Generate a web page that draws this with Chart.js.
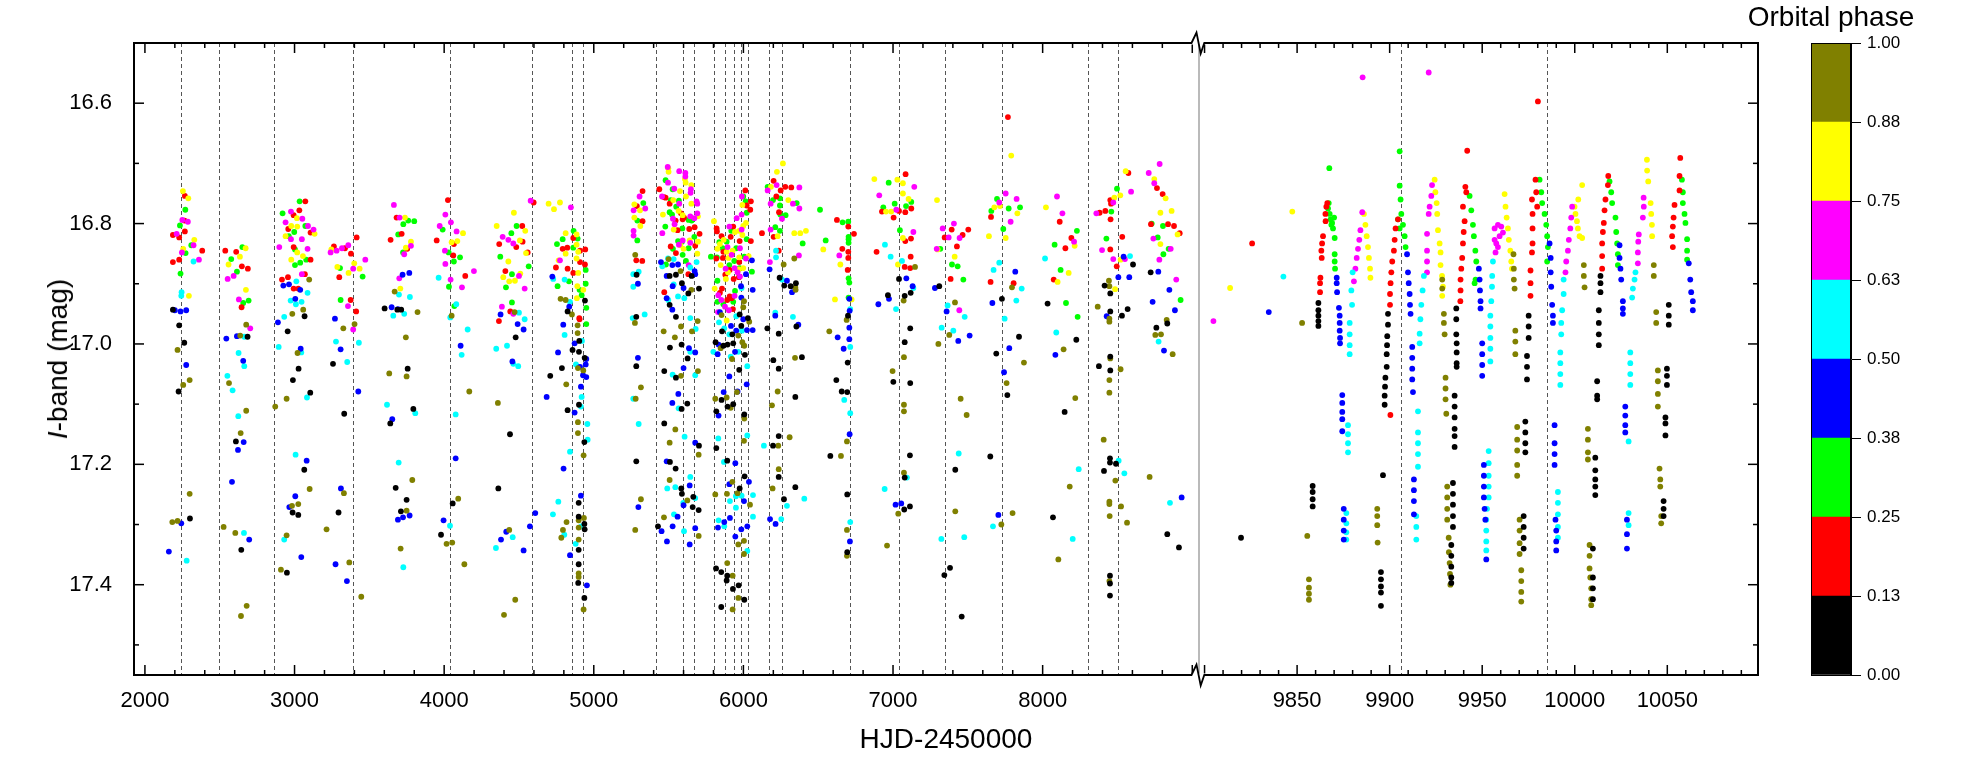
<!DOCTYPE html>
<html>
<head>
<meta charset="utf-8">
<script src="https://cdn.jsdelivr.net/npm/chart.js@4.4.0/dist/chart.umd.min.js"></script>
<style>
body { margin: 0; background: #fff; width: 1961px; height: 771px; overflow: hidden; position: relative; font-family: "Liberation Sans", Arial, sans-serif; }
canvas { position: absolute; top: 0; }
.t { position: absolute; color: #000; white-space: nowrap; line-height: 1; font-size: 28px; }
</style>
</head>
<body>
<canvas id="leftPanel" width="1205" height="771" style="left:0"></canvas>
<canvas id="rightPanel" width="591" height="771" style="left:1180px"></canvas>
<canvas id="phaseBar" width="150" height="771" style="left:1811px"></canvas>
<div class="t" id="xTitle" style="left:946px;top:739px;transform:translate(-50%,-50%)">HJD-2450000</div>
<div class="t" id="yTitle" style="left:58px;top:359px;transform:translate(-50%,-50%) rotate(-90deg)"><i>I</i>-band (mag)</div>
<div class="t" id="barTitle" style="left:1831px;top:17px;transform:translate(-50%,-50%)">Orbital phase</div>
<script>
// colour bar: phase bins and their colours
const phaseTicks = [0, 0.125, 0.25, 0.375, 0.5, 0.625, 0.75, 0.875, 1];
const phaseLabels = ['0.00', '0.13', '0.25', '0.38', '0.50', '0.63', '0.75', '0.88', '1.00'];
const phaseColors = ['#000000', '#ff0000', '#00ff00', '#0000ff', '#00ffff', '#ff00ff', '#ffff00', '#808000'];

// axis ticks
const hjdTicksLeft = [2000, 3000, 4000, 5000, 6000, 7000, 8000];
const hjdTicksRight = [9850, 9900, 9950, 10000, 10050];
const magTicks = [16.6, 16.8, 17.0, 17.2, 17.4];

// dashed vertical markers (HJD-2450000)
const markHjd = [2240, 2493, 2865, 3393, 4041, 4590, 4856, 4931, 5417, 5594, 5672, 5801, 5879, 5935, 5986, 6028, 6169, 6258, 6715, 7043, 7348, 7729, 8306, 8502, 9906, 9985];

// observations [HJD-2450000, I mag], one list per phase bin
const phase00 = [
  [2187,16.943],[2229,16.969],[2263,16.998],[2225,17.079],[2301,17.290],[2686,16.988],[2608,17.162],[2644,17.342],
  [3067,16.954],[2954,16.979],[3027,17.041],[2989,17.060],[3105,17.081],[3065,17.209],[2987,17.280],[3025,17.284],[2949,17.380],
  [3257,17.033],[3332,17.116],[3294,17.280],[3602,16.941],[3687,16.943],[3713,16.943],[3640,17.132],[3676,17.239],[3711,17.278],
  [3756,17.041],[3794,17.108],[3749,17.259],[4057,17.265],[3979,17.317],[4478,16.989],[4440,17.150],[4362,17.240],
  [4941,16.928],[4825,16.946],[4903,16.995],[4858,17.010],[4901,17.013],[4939,17.023],[4787,17.040],[4709,17.053],[4825,17.110],
  [4901,17.101],[4937,17.163],[4899,17.264],[4899,17.287],[4937,17.299],[4939,17.308],[4899,17.342],[4899,17.366],[4896,17.397],[4937,17.422],
  [5286,16.885],[5284,16.955],[5284,17.037],[5284,17.195],
  [5507,16.887],[5549,16.885],[5654,16.887],[5589,16.899],[5703,16.908],[5632,16.916],[5507,16.935],[5549,16.955],[5509,17.006],
  [5587,17.001],[5627,17.024],[5471,17.045],[5549,17.056],[5625,17.099],[5587,17.108],[5471,17.132],[5703,17.169],[5509,17.196],
  [5547,17.207],[5585,17.240],[5589,17.249],[5665,17.254],[5661,17.271],[5701,17.276],[5429,17.303],
  [5975,16.951],[6030,16.957],[5857,16.979],[5926,16.984],[5986,16.970],[5814,16.997],[5866,17.003],[5894,17.001],[5932,16.999],
  [6010,17.018],[5972,17.043],[5819,17.112],[5854,17.093],[5894,17.104],[5932,17.100],[6006,17.117],[5819,17.173],[5892,17.194],
  [6008,17.220],[5975,17.240],[5817,17.373],[5852,17.379],[5892,17.385],[5888,17.393],[5930,17.407],[5968,17.401],[6006,17.425],[5852,17.437],
  [6242,16.890],[6273,16.903],[6316,16.904],[6351,16.899],[6354,16.971],[6236,16.983],[6160,16.974],[6391,17.022],[6200,17.027],
  [6236,17.041],[6347,17.088],[6198,17.169],[6236,17.153],[6236,17.221],[6347,17.238],[6271,17.258],
  [6699,16.953],[6697,17.031],[6621,17.060],[6657,17.079],[6694,17.080],[6581,17.186],[6694,17.250],[6694,17.346],
  [7040,16.892],[6966,16.919],[7078,16.920],[7118,16.915],[7115,16.974],[7078,16.997],[7002,17.063],[7115,17.065],[7113,17.185],
  [7078,17.222],[7075,17.275],[7113,17.270],[7309,16.904],[7416,17.209],[7381,17.372],[7343,17.384],[7459,17.453],
  [7728,16.925],[7842,16.988],[7690,17.016],[7764,17.085],[7650,17.187],[8033,16.933],[8225,16.993],[8147,17.113],[8069,17.288],
  [8604,16.868],[8414,16.903],[8452,16.916],[8452,16.946],[8530,16.953],[8568,16.942],[8452,17.021],[8376,17.037],[8452,17.044],
  [8450,17.190],[8450,17.197],[8490,17.199],[8410,17.211],[8450,17.385],[8450,17.398],[8450,17.418],
  [8722,16.881],[8833,16.966],[8760,16.973],[8833,17.316],[8911,17.338],
  [9819.7,17.322],[9858.4,17.236],[9858.4,17.246],[9858.4,17.258],[9858.4,17.270],
  [9861.5,16.932],[9861.5,16.944],[9861.5,16.953],[9861.5,16.962],[9861.5,16.970],
  [9896.4,17.218],[9895.3,17.379],[9895.3,17.391],[9895.3,17.403],[9895.3,17.413],[9895.3,17.435],
  [9899.1,16.950],[9899.1,16.968],[9898.7,16.987],[9898.6,17.002],[9898.4,17.017],[9898.4,17.038],[9897.7,17.056],[9897.5,17.071],[9897.3,17.086],[9897.3,17.101],
  [9936.0,16.941],[9936.0,16.959],[9936.0,16.984],[9936.2,16.999],[9936.2,17.014],[9936.2,17.032],[9936.2,17.038],
  [9935.1,17.086],[9935.1,17.104],[9935.1,17.122],[9935.1,17.141],[9935.1,17.153],[9935.1,17.171],
  [9934.2,17.231],[9934.2,17.249],[9934.2,17.267],[9934.2,17.286],[9934.2,17.304],
  [9933.3,17.334],[9933.3,17.352],[9933.3,17.370],[9933.3,17.388],[9933.3,17.397],
  [9972.4,17.286],[9972.4,17.304],[9972.4,17.322],[9972.4,17.340],[9973.3,17.129],[9973.3,17.147],[9973.3,17.165],[9973.3,17.180],
  [9974.2,17.020],[9974.2,17.038],[9974.2,17.059],[9975.1,16.953],[9975.1,16.971],[9975.1,16.990],
  [10009.8,17.340],[10009.8,17.388],[10009.8,17.406],[10009.8,17.424],
  [10011.1,17.189],[10011.1,17.210],[10011.1,17.225],[10011.1,17.237],[10011.1,17.251],
  [10012.1,17.062],[10012.1,17.086],[10012.1,17.092],[10013.0,16.944],[10013.0,16.965],[10013.0,16.984],[10013.0,17.002],
  [10013.9,16.887],[10013.9,16.899],[10013.9,16.914],
  [10048.0,17.261],[10048.0,17.274],[10048.0,17.286],[10049.0,17.122],[10049.0,17.132],[10049.0,17.152],
  [10049.8,17.041],[10049.8,17.053],[10049.8,17.068],[10050.8,16.935],[10050.8,16.953],[10050.8,16.968]
];

const phase13 = [
  [2267,16.754],[2265,16.795],[2187,16.819],[2229,16.823],[2267,16.813],[2383,16.845],[2187,16.864],[2229,16.860],
  [2537,16.845],[2610,16.847],[2648,16.871],[2688,16.875],[2646,16.939],
  [3032,16.778],[3072,16.763],[2994,16.786],[2958,16.809],[3107,16.815],[2994,16.839],[3107,16.860],[2916,16.893],[2956,16.889],
  [2994,16.908],[3025,16.908],[3069,16.884],
  [3263,16.838],[3337,16.841],[3377,16.850],[3415,16.823],[3299,16.889],[3375,16.927],[3412,16.946],
  [3682,16.790],[3642,16.827],[3716,16.817],[3753,16.842],
  [4025,16.761],[4065,16.834],[3950,16.828],[4061,16.853],[4141,16.887],
  [4598,16.765],[4522,16.804],[4368,16.834],[4482,16.839],[4524,16.830],[4558,16.848],[4409,16.879],[4442,16.946],[4366,16.962],
  [4792,16.842],[4823,16.840],[4863,16.824],[4908,16.845],[4943,16.843],[4747,16.873],[4825,16.875],[4863,16.882],[4908,16.864],
  [4941,16.868],[4903,16.957],[4905,16.959],
  [5326,16.746],[5288,16.771],[5326,16.796],[5284,16.861],[5324,16.862],
  [5438,16.743],[5480,16.757],[5469,16.756],[5507,16.767],[5583,16.783],[5594,16.793],[5547,16.795],[5603,16.790],[5638,16.809],
  [5560,16.811],[5674,16.806],[5707,16.817],[5514,16.838],[5678,16.837],[5549,16.849],[5632,16.884],[5471,16.914],
  [5821,16.808],[5823,16.813],[5854,16.821],[5932,16.805],[6013,16.745],[6022,16.770],[6050,16.763],[6046,16.777],[6050,16.829],
  [5915,16.822],[5866,16.847],[5975,16.829],[5863,16.857],[5819,16.858],[5972,16.864],[5908,16.877],[5879,16.885],[5935,16.892],
  [5970,16.889],[5857,16.908],[5843,16.915],[5908,16.921],[5892,16.927],[5921,16.924],[5930,16.942],
  [6202,16.729],[6280,16.739],[6320,16.740],[6249,16.745],[6220,16.755],[6238,16.781],[6124,16.816],[6202,16.822],[6236,16.845],
  [6625,16.794],[6701,16.805],[6739,16.817],[6661,16.842],[6701,16.847],[6701,16.857],[6697,16.877],
  [7084,16.718],[7122,16.775],[6926,16.780],[7040,16.779],[7082,16.781],[7004,16.790],[7082,16.829],[7120,16.825],[6890,16.847],
  [7118,16.855],[7078,16.872],[7115,16.874],
  [7392,16.810],[7465,16.819],[7503,16.810],[7345,16.823],[7427,16.838],[7385,16.892],
  [7768,16.623],[7655,16.789],[7652,16.897],[7806,16.899],
  [8114,16.797],[8192,16.824],[8152,16.841],[8074,16.893],
  [8381,16.782],[8419,16.779],[8452,16.761],[8457,16.767],[8573,16.716],[8454,16.793],[8532,16.822],[8452,16.843],[8495,16.871],
  [8764,16.741],[8802,16.751],[8724,16.801],[8838,16.801],[8878,16.804],[8916,16.816],
  [9825.7,16.833],[9866.3,16.766],[9865.8,16.772],[9865.3,16.784],[9865.4,16.796],[9864.0,16.821],[9863.5,16.833],[9863.1,16.845],
  [9863.3,16.857],[9862.6,16.890],[9862.4,16.899],[9862.4,16.914],
  [9900.4,17.118],[9904.5,16.793],[9903.2,16.808],[9902.7,16.827],[9902.3,16.845],[9901.4,16.863],[9900.9,16.881],[9900.5,16.899],
  [9900.2,16.917],[9900.2,16.935],
  [9941.9,16.679],[9940.9,16.739],[9941.4,16.748],[9939.6,16.772],[9940.5,16.796],[9940.0,16.814],[9939.6,16.833],[9939.2,16.857],
  [9938.7,16.875],[9938.3,16.893],[9938.3,16.911],[9938.2,16.929],
  [9976.1,16.878],[9976.1,16.899],[9976.1,16.920],[9976.9,16.760],[9977.2,16.784],[9977.2,16.808],[9977.2,16.833],[9976.9,16.848],
  [9980.1,16.597],[9978.8,16.727],[9979.2,16.748],[9979.7,16.772],
  [10014.8,16.875],[10014.8,16.854],[10014.8,16.833],[10015.2,16.814],[10015.7,16.799],[10016.1,16.778],[10016.6,16.760],
  [10017.9,16.736],[10018.1,16.721],
  [10053.9,16.769],[10053.4,16.790],[10053.0,16.805],[10052.6,16.821],[10053.0,16.839],[10057.0,16.691],[10056.6,16.721],[10056.6,16.745]
];

const phase25 = [
  [2270,16.777],[2234,16.803],[2310,16.836],[2272,16.849],[2238,16.883],
  [2651,16.839],[2577,16.859],[2615,16.880],[2693,16.928],[2657,16.932],
  [2920,16.783],[3034,16.763],[3072,16.804],[2998,16.814],[2962,16.821],[3003,16.843],[3078,16.860],[3038,16.865],[3003,16.869],
  [3304,16.874],[3455,16.888],[3308,16.927],[3693,16.818],[3725,16.848],
  [3760,16.795],[3800,16.796],[3727,16.801],
  [3990,16.810],[4030,16.848],[4065,16.863],[4106,16.856],[4032,16.905],[4068,16.937],
  [4484,16.804],[4449,16.816],[4375,16.855],[4565,16.871],[4453,16.884],[4413,16.906],[4453,16.931],
  [4754,16.834],[4792,16.826],[4865,16.812],[4892,16.825],[4863,16.840],[4758,16.904],[4834,16.896],[4946,16.877],[4946,16.900],
  [4905,16.910],[4919,16.919],[4950,16.940],[4950,16.967],
  [5331,16.766],[5291,16.795],[5291,16.828],
  [5480,16.728],[5527,16.743],[5514,16.761],[5569,16.762],[5551,16.772],[5507,16.781],[5523,16.785],[5634,16.794],[5654,16.795],
  [5478,16.805],[5592,16.808],[5672,16.822],[5589,16.830],[5563,16.829],[5634,16.841],[5529,16.842],[5594,16.852],[5482,16.868],[5616,16.862],
  [5839,16.831],[5919,16.812],[5999,16.755],[6015,16.763],[6022,16.782],[6022,16.826],[5888,16.830],[5861,16.841],[5952,16.841],
  [5823,16.856],[5783,16.855],[6006,16.855],[5939,16.862],[5906,16.869],[5975,16.874],[6057,16.880],[5826,16.895],[5944,16.912],
  [5826,16.930],[5866,16.934],[5932,16.930],
  [6162,16.739],[6198,16.761],[6244,16.758],[6244,16.770],[6356,16.766],[6247,16.785],[6282,16.786],[6213,16.806],[6244,16.812],[6396,16.833],
  [6512,16.777],[6663,16.798],[6701,16.797],[6703,16.822],[6703,16.826],[6703,16.832],[6703,16.891],[6708,16.898],[6703,16.923],[6550,16.828],
  [6971,16.732],[7122,16.764],[7011,16.767],[6935,16.773],[7087,16.771],[7046,16.811],
  [7316,16.842],[7394,16.868],[7432,16.871],[7470,16.893],
  [7695,16.759],[7657,16.779],[7773,16.775],[7849,16.773],[7737,16.809],
  [8229,16.812],[8080,16.835],[8120,16.877],[8156,16.932],[8234,16.955],
  [8497,16.742],[8459,16.780],[8426,16.825],
  [8729,16.800],[8804,16.804],[8769,16.823],[8842,16.842],[8807,16.851],[8922,16.927],
  [9867.4,16.708],[9867.1,16.766],[9866.7,16.775],[9867.6,16.784],[9868.1,16.793],[9868.9,16.799],[9870.0,16.790],[9869.4,16.808],
  [9870.3,16.824],[9868.5,16.802],[9870.3,16.851],[9870.3,16.863],[9870.5,16.875],
  [9905.4,16.680],[9905.4,16.737],[9905.9,16.760],[9906.3,16.784],[9907.2,16.802],[9908.1,16.821],[9908.6,16.839],[9904.5,16.793],[9905.4,16.808],
  [9943.2,16.754],[9944.1,16.778],[9945.0,16.802],[9945.5,16.821],[9946.3,16.845],[9946.8,16.863],[9946.4,16.893],[9945.9,16.899],
  [9981.0,16.727],[9981.9,16.748],[9982.4,16.766],[9983.7,16.784],[9984.6,16.802],[9985.1,16.821],[9985.5,16.839],[9985.1,16.863],
  [10018.8,16.730],[10019.7,16.748],[10020.2,16.766],[10022.0,16.790],[10022.4,16.814],[10022.9,16.833],[10023.3,16.851],[10023.3,16.869],
  [10057.9,16.727],[10058.4,16.748],[10058.4,16.766],[10059.3,16.784],[10059.8,16.799],[10060.7,16.826],[10060.7,16.845],[10060.7,16.860]
];

const phase38 = [
  [2200,16.944],[2238,16.946],[2276,16.944],[2276,17.035],[2243,17.298],[2160,17.345],
  [2544,16.991],[2615,16.987],[2657,17.028],[2660,17.163],[2622,17.176],[2582,17.229],[2697,17.325],
  [2925,16.903],[2963,16.901],[3038,16.910],[3005,16.925],[2889,16.964],[3041,17.008],[3081,17.194],[3005,17.253],[2965,17.271],[3045,17.354],
  [3270,16.958],[3308,17.009],[3426,17.079],[3310,17.240],[3274,17.366],[3350,17.394],
  [3649,16.939],[3691,16.942],[3722,16.885],[3653,17.125],[3691,17.292],[3725,17.288],[3767,16.882],[3769,17.285],
  [4110,17.003],[4077,17.190],[3996,17.293],
  [4377,16.951],[4491,16.967],[4531,16.976],[4456,17.029],[4609,17.281],[4573,17.303],[4415,17.312],[4380,17.325],[4531,17.343],
  [4723,16.888],[4836,16.938],[4796,16.968],[4872,16.999],[4761,17.014],[4950,17.025],[4946,17.034],[4908,17.038],[4928,17.052],
  [4950,17.055],[4914,17.071],[4685,17.088],[4872,17.114],[4798,17.207],[4914,17.252],[4841,17.351],[4954,17.401],
  [5295,16.900],[5295,17.023],[5298,17.271],
  [5449,16.864],[5525,16.869],[5563,16.868],[5674,16.879],[5487,16.887],[5678,16.884],[5527,16.904],[5600,16.907],[5487,16.924],
  [5525,16.943],[5636,17.007],[5678,17.014],[5600,17.040],[5565,17.083],[5525,17.098],[5678,17.164],[5487,17.195],[5641,17.235],
  [5600,17.268],[5560,17.287],[5527,17.303],[5453,17.311],[5678,17.306],[5489,17.328],[5641,17.333],
  [6057,16.861],[6017,16.884],[5984,16.904],[6062,16.910],[5986,16.923],[5843,16.947],[5999,16.959],[5917,16.970],[5952,16.978],
  [6024,16.977],[6062,16.977],[5834,17.001],[5828,17.017],[5944,17.013],[5906,17.054],[6022,17.067],[5834,17.119],[5868,17.080],
  [5961,17.079],[5946,17.198],[5906,17.233],[6004,17.261],[6037,17.229],[5830,17.305],[5872,17.296],[5910,17.289],[5986,17.308],
  [6026,17.303],[5946,17.320],
  [6175,16.876],[6291,16.895],[6325,16.914],[6213,16.953],[6367,16.968],[6178,17.291],[6215,17.299],
  [6708,16.925],[6710,16.945],[6708,16.973],[6630,16.989],[6708,16.992],[6670,17.008],[6710,17.150],[6712,17.328],
  [7089,16.891],[7131,16.904],[6973,16.925],[6902,16.934],[7017,17.267],[7055,17.265],
  [7280,16.907],[7358,16.946],[7436,16.995],[7512,16.986],
  [7817,16.880],[7664,16.932],[7777,17.007],[7742,17.047],[7704,17.284],[8085,17.018],
  [8541,16.855],[8506,16.889],[8579,16.889],[8428,16.954],
  [8773,16.880],[8847,16.910],[8735,16.930],[8884,16.944],[8811,17.011],[8929,17.255],
  [9834.7,16.947],
  [9871.4,16.890],[9871.4,16.899],[9871.6,16.914],[9872.6,16.940],[9873.0,16.953],[9873.0,16.965],[9873.0,16.978],[9873.2,16.990],[9873.2,16.999],
  [9874.4,17.085],[9874.4,17.098],[9874.4,17.113],[9874.4,17.125],[9874.4,17.145],
  [9875.2,17.274],[9875.2,17.292],[9875.2,17.310],[9875.2,17.325],
  [9909.4,16.851],[9909.9,16.881],[9910.3,16.899],[9910.8,16.917],[9911.0,16.935],[9911.3,16.950],
  [9912.2,17.005],[9912.2,17.023],[9912.2,17.041],[9912.2,17.059],[9912.6,17.080],
  [9913.1,17.225],[9913.1,17.243],[9913.1,17.261],[9913.1,17.283],
  [9948.2,16.875],[9948.6,16.893],[9948.8,16.911],[9949.1,16.929],[9949.1,16.941],
  [9950.0,16.999],[9950.0,17.017],[9950.0,17.035],[9950.0,17.053],
  [9950.9,17.201],[9950.9,17.219],[9950.9,17.237],[9950.9,17.255],[9951.3,17.274],[9951.7,17.292],[9952.2,17.358],
  [9986.4,16.833],[9987.0,16.857],[9987.0,16.881],[9987.3,16.905],[9987.8,16.935],[9988.2,16.953],[9988.2,16.965],
  [9989.1,17.135],[9989.1,17.165],[9989.1,17.183],[9989.1,17.201],
  [9989.6,17.292],[9990.0,17.310],[9990.0,17.328],[9990.0,17.343],
  [10024.2,16.836],[10024.2,16.857],[10024.7,16.875],[10025.1,16.893],[10026.0,16.929],[10026.0,16.941],[10026.0,16.950],
  [10027.3,17.104],[10027.3,17.119],[10027.3,17.135],[10027.3,17.147],[10028.2,17.292],[10028.2,17.316],[10028.2,17.340],
  [10061.6,16.866],[10062.4,16.893],[10062.9,16.914],[10063.8,16.929],[10063.8,16.944]
];

const phase50 = [
  [2325,16.863],[2245,16.914],[2243,16.920],[2279,17.360],
  [2664,16.988],[2626,17.015],[2664,17.037],[2551,17.053],[2586,17.077],[2624,17.120],[2662,17.314],
  [3012,16.896],[3087,16.915],[2974,16.928],[3009,16.934],[3047,16.930],[2931,16.955],[2894,17.005],[3045,17.014],[3083,17.089],
  [3007,17.184],[2931,17.325],
  [3277,16.996],[3430,16.998],[3352,17.030],
  [3698,16.918],[3660,16.953],[3618,17.101],[3696,17.197],[3727,17.371],[3771,16.922],[3733,16.950],[3807,17.115],
  [3963,16.890],[4081,16.934],[4041,16.956],[4157,16.976],[4117,17.018],[4077,17.117],[4039,17.302],
  [4500,16.948],[4538,16.959],[4348,17.008],[4420,17.003],[4462,17.033],[4495,17.037],[4458,17.321],[4346,17.339],
  [4729,16.892],[4805,16.893],[4841,16.930],[4805,16.985],[4921,16.995],[4881,17.034],[4919,17.088],[4914,17.104],[4957,17.133],
  [4959,17.159],[4841,17.179],[4763,17.262],[4727,17.283],[4916,17.303],[4803,17.317],[4879,17.332],
  [5264,16.884],[5300,16.880],[5264,16.905],[5260,16.957],[5340,16.951],[5264,17.091],[5300,17.133],
  [5458,16.871],[5496,16.858],[5534,16.859],[5645,16.873],[5687,16.864],[5534,16.901],[5563,16.921],[5605,16.924],[5498,16.927],
  [5645,16.957],[5681,16.975],[5645,17.013],[5527,17.051],[5678,17.052],[5567,17.107],[5607,17.154],[5645,17.221],[5491,17.240],
  [5545,17.238],[5678,17.256],[5598,17.264],[5536,17.283],[5603,17.311],
  [5988,16.907],[5952,16.954],[5837,16.964],[5872,16.974],[5906,16.984],[5990,16.978],[5799,17.013],[5915,17.021],[5966,17.013],
  [6026,17.037],[6026,17.152],[5832,17.157],[5870,17.196],[5910,17.261],[5950,17.253],[5988,17.252],[6064,17.251],[5834,17.293],
  [5872,17.303],[5950,17.272],[6064,17.287],[6026,17.344],
  [6218,16.845],[6218,16.856],[6258,16.893],[6213,16.948],[6331,16.955],[6137,17.169],[6291,17.269],[6253,17.291],[6407,17.257],
  [6714,16.942],[6714,17.005],[6674,17.093],[6714,17.115],[6714,17.296],
  [6946,16.835],[6984,16.855],[7060,16.862],[7136,16.907],[7020,16.942],[7093,17.222],[6944,17.241],
  [7365,16.936],[7479,16.955],[7325,16.973],[7403,16.978],[7439,17.182],[7323,17.324],[7476,17.321],
  [7710,16.865],[7672,16.877],[7860,16.908],[7824,16.928],[7746,16.958],[7668,17.303],
  [8016,16.858],[8091,16.981],[8241,17.208],[8201,17.324],
  [8584,16.854],[8508,17.194],[8546,17.215],[8775,16.996],[8851,17.264],
  [9842.6,16.888],
  [9876.6,17.281],[9876.6,17.298],[9876.6,17.313],[9876.6,17.325],[9877.5,17.135],[9877.5,17.150],[9877.5,17.165],[9877.5,17.180],
  [9878.4,16.965],[9878.4,16.984],[9878.4,17.002],[9878.4,17.017],[9879.3,16.911],[9879.7,16.935],[9880.0,16.881],
  [9918.5,16.887],[9917.8,16.911],[9917.1,16.935],[9916.6,16.959],[9916.2,16.983],[9916.2,16.999],
  [9915.3,17.112],[9915.3,17.147],[9915.3,17.165],[9915.3,17.183],[9915.3,17.204],[9914.4,17.286],[9914.4,17.304],[9914.4,17.325],
  [9954.4,16.953],[9954.4,16.971],[9954.4,16.990],[9954.4,17.008],[9954.4,17.029],
  [9955.8,16.863],[9955.4,16.887],[9955.3,16.905],[9954.9,16.929],
  [9953.5,17.178],[9953.5,17.198],[9953.5,17.219],[9953.5,17.237],[9953.5,17.255],[9952.6,17.274],[9952.2,17.292],[9952.2,17.310],
  [9952.2,17.328],[9952.2,17.343],
  [9990.9,17.246],[9990.9,17.264],[9990.9,17.283],[9990.9,17.304],[9990.9,17.322],
  [9992.2,17.014],[9992.2,17.032],[9992.2,17.050],[9992.2,17.068],[9992.7,16.965],[9992.7,16.984],[9993.2,16.944],
  [9994.0,16.893],[9994.0,16.917],
  [10029.1,17.162],[10029.1,17.281],[10029.1,17.301],[10030.0,17.014],[10030.0,17.032],[10030.0,17.050],[10030.0,17.068],
  [10031.0,16.923],[10031.4,16.908],[10032.3,16.893],[10032.8,16.881]
];

const phase63 = [
  [2250,16.794],[2287,16.797],[2212,16.817],[2325,16.836],[2247,16.848],[2361,16.860],
  [2593,16.887],[2553,16.892],[2628,16.926],[2704,16.974],
  [2898,16.839],[2976,16.780],[2940,16.798],[3052,16.792],[3090,16.804],[3127,16.810],[2976,16.826],[3049,16.826],[3087,16.842],[3049,16.884],
  [3241,16.848],[3281,16.845],[3317,16.841],[3359,16.836],[3392,16.875],[3473,16.860],[3357,16.937],[3392,16.976],
  [3664,16.769],[3702,16.790],[3700,16.891],[3778,16.837],[3733,16.851],
  [4008,16.785],[3970,16.804],[4045,16.798],[4083,16.813],[4005,16.845],[4008,16.867],[4199,16.879],[4043,16.893],[4119,16.906],
  [4578,16.762],[4391,16.822],[4429,16.827],[4462,16.833],[4500,16.887],[4538,16.908],[4386,16.938],[4462,16.950],
  [4847,16.773],[4774,16.861],
  [5306,16.755],[5344,16.775],[5266,16.778],[5266,16.812],[5266,16.820],
  [5494,16.706],[5571,16.713],[5612,16.716],[5612,16.722],[5496,16.732],[5538,16.742],[5649,16.743],[5647,16.749],[5456,16.755],
  [5687,16.763],[5692,16.767],[5571,16.767],[5692,16.783],[5529,16.792],[5645,16.788],[5672,16.791],[5540,16.801],[5458,16.816],
  [5594,16.828],[5645,16.832],[5569,16.835],[5634,16.869],
  [5955,16.791],[5906,16.805],[5988,16.810],[5990,16.755],[5988,16.785],[5894,16.839],[5977,16.841],[5921,16.852],[6017,16.858],
  [5881,16.875],[5941,16.874],[5961,16.881],[5977,16.888],[5941,16.920],[5832,16.919],[5852,16.927],[5877,16.938],[5903,16.944],[5830,16.947],
  [6222,16.736],[6374,16.740],[6162,16.745],[6182,16.767],[6331,16.767],[6374,16.775],[6258,16.792],[6182,16.810],[6371,16.853],[6177,16.864],
  [6641,16.853],
  [7142,16.739],[6908,16.753],[7022,16.777],[7136,16.814],
  [7332,16.808],[7407,16.800],[7445,16.824],[7372,16.823],[7292,16.842],[7443,16.944],
  [7753,16.750],[7710,16.765],[7826,16.759],[7786,16.797],
  [8096,16.755],[8132,16.783],[8210,16.830],
  [8359,16.783],[8472,16.765],[8591,16.747],[8397,16.844],[8472,16.859],[8550,16.859],
  [8709,16.716],[8782,16.701],[8746,16.733],[8740,16.825],[8856,16.842],[8780,16.860],[8893,16.893],
  [9804.8,16.962],[9885.4,16.557],
  [9880.7,16.896],[9881.5,16.875],[9882.2,16.857],[9882.9,16.842],[9883.6,16.827],[9884.2,16.811],[9885.2,16.781],
  [9921.1,16.549],[9920.2,16.881],[9920.2,16.863],[9920.2,16.845],[9920.2,16.817],
  [9921.1,16.784],[9921.6,16.772],[9922.5,16.754],[9922.9,16.736],
  [9956.7,16.808],[9958.5,16.802],[9960.3,16.805],[9957.6,16.833],[9957.2,16.848],[9956.7,16.827],[9959.4,16.821],[9961.2,16.815],[9958.5,16.839],
  [9995.0,16.881],[9995.4,16.863],[9996.3,16.845],[9996.8,16.827],[9997.6,16.808],[9998.1,16.790],[9998.6,16.772],
  [10034.1,16.866],[10034.1,16.848],[10034.3,16.830],[10034.6,16.818],[10036.8,16.790],[10037.3,16.772],[10037.2,16.757]
];

const phase75 = [
  [2254,16.746],[2290,16.758],[2330,16.827],[2256,16.842],[2294,16.920],
  [2673,16.841],[2635,16.855],[2559,16.868],[2675,16.910],
  [3016,16.791],[2978,16.804],[3018,16.805],[3134,16.817],[2940,16.821],[3018,16.848],[3056,16.854],[2978,16.860],
  [3246,16.843],[3399,16.866],[3435,16.875],[3361,16.882],[3286,16.872],[3707,16.908],
  [3738,16.790],[3778,16.830],[3744,16.840],
  [4126,16.816],[4088,16.829],[4050,16.831],
  [4466,16.782],[4351,16.804],[4542,16.812],[4506,16.828],[4547,16.849],[4429,16.863],[4395,16.889],[4435,16.896],[4473,16.895],[4509,16.883],
  [4698,16.767],[4734,16.776],[4774,16.765],[4812,16.816],[4765,16.861],[4812,16.850],[4885,16.818],[4885,16.835],[4896,16.847],
  [4885,16.858],[4896,16.882],[4890,16.904],[4930,16.910],[4887,16.924],
  [5271,16.768],[5309,16.778],[5271,16.790],[5311,16.804],
  [5498,16.708],[5500,16.714],[5609,16.726],[5614,16.732],[5652,16.736],[5576,16.746],[5531,16.761],[5616,16.755],[5652,16.767],
  [5567,16.779],[5462,16.785],[5594,16.786],[5696,16.788],[5534,16.810],[5696,16.830],[5641,16.828],[5578,16.836],[5600,16.842],[5692,16.850],
  [5803,16.796],[5868,16.827],[5843,16.834],[5944,16.814],[5972,16.812],[5993,16.769],[5999,16.804],[6017,16.799],[5993,16.819],
  [5826,16.842],[5888,16.847],[5928,16.845],[5901,16.857],[5972,16.856],[6035,16.854],[5848,16.869],[5970,16.876],[5999,16.874],
  [5897,16.881],[5883,16.892],[5808,16.908],[5888,16.961],
  [6264,16.700],[6224,16.714],[6184,16.739],[6300,16.761],[6229,16.821],[6340,16.816],[6380,16.816],[6418,16.812],
  [6534,16.843],[6648,16.868],[6612,16.926],[6723,16.926],
  [6875,16.726],[7029,16.727],[7066,16.733],[7066,16.750],[7104,16.759],[6953,16.780],[6988,16.780],[7066,16.824],[7033,16.868],
  [7294,16.761],[7298,16.843],[7412,16.855],
  [7790,16.687],[7715,16.771],[7677,16.773],[7831,16.783],[7641,16.821],[7753,16.824],
  [8022,16.773],[8214,16.837],[8174,16.882],[8100,16.897],
  [8555,16.713],[8479,16.757],[8519,16.753],[8521,16.860],[8484,16.909],
  [8746,16.726],[8822,16.758],[8787,16.782],[8862,16.779],[8902,16.818],[8787,16.834],
  [9813.8,16.907],[9847.4,16.780],
  [9886.1,16.784],[9886.9,16.802],[9887.6,16.821],[9888.3,16.839],[9888.8,16.857],[9889.4,16.875],[9889.6,16.890],
  [9924.3,16.727],[9924.7,16.748],[9925.4,16.766],[9925.7,16.784],[9926.1,16.811],[9927.0,16.833],[9927.5,16.848],[9927.5,16.869],
  [9928.3,16.887],[9928.8,16.905],[9928.4,16.920],
  [9962.1,16.751],[9962.6,16.772],[9963.2,16.790],[9963.9,16.808],[9964.4,16.827],[9965.2,16.845],[9965.7,16.863],[9966.1,16.875],
  [9999.9,16.772],[10000.4,16.784],[10001.2,16.796],[10001.7,16.808],[10002.6,16.821],[10004.0,16.824],[10001.9,16.760],[10004.0,16.736],
  [10039.0,16.694],[10039.1,16.712],[10039.7,16.730],[10041.0,16.766],[10041.3,16.784],[10041.7,16.802],[10041.8,16.821]
];

const phase88 = [
  [2299,17.249],[2183,17.296],[2218,17.294],[2218,17.010],[2299,17.060],[2256,17.068],
  [2677,16.968],[2637,16.986],[2562,17.065],[2677,17.111],[2640,17.148],[2526,17.304],[2604,17.314],[2680,17.435],[2642,17.452],
  [3098,16.893],[2985,16.950],[3058,16.943],[3020,17.015],[2947,17.091],[2871,17.104],[3101,17.241],[2983,17.269],[3025,17.266],
  [2947,17.318],[2909,17.375],
  [3401,16.967],[3326,16.974],[3330,17.248],[3214,17.308],[3366,17.363],[3446,17.420],
  [3669,16.913],[3633,17.049],[3709,17.340],[3822,16.947],[3744,16.989],[3749,17.054],[3787,17.226],[3749,17.277],
  [4050,16.953],[4168,17.079],[4094,17.257],[4016,17.332],[4054,17.330],[4135,17.366],
  [4471,16.947],[4359,17.098],[4435,17.309],[4475,17.425],[4400,17.450],
  [4778,16.925],[4812,16.927],[4854,16.951],[4892,16.969],[4892,16.982],[4894,17.040],[4930,17.044],[4816,17.067],[4894,17.130],
  [4894,17.148],[4932,17.185],[4818,17.296],[4899,17.293],[4934,17.289],[4899,17.305],[4794,17.309],[4783,17.322],[4899,17.325],
  [4899,17.381],[4899,17.387],[4932,17.441],
  [5277,16.852],[5275,16.965],[5315,17.072],[5280,17.091],[5315,17.258],[5277,17.309],
  [5500,16.859],[5580,16.879],[5652,16.910],[5694,16.962],[5467,16.979],[5542,16.989],[5583,16.971],[5656,16.979],[5583,17.053],
  [5696,17.045],[5545,17.142],[5507,17.164],[5701,17.184],[5507,17.226],[5625,17.260],[5469,17.288],[5701,17.319],
  [6004,16.929],[5999,16.939],[5854,16.952],[6039,16.963],[5966,16.986],[5993,16.997],[5848,17.007],[5924,17.025],[6006,17.003],
  [5812,17.091],[5888,17.089],[5957,17.080],[5915,17.106],[6006,17.124],[6004,17.161],[5926,17.229],[5812,17.250],[5890,17.249],
  [5961,17.248],[6044,17.267],[5966,17.333],[6004,17.327],[6004,17.349],[5892,17.364],[5928,17.385],[5966,17.422],[5928,17.441],
  [6269,16.868],[6340,16.858],[6347,16.906],[6349,16.910],[6345,17.023],[6229,17.079],[6191,17.102],[6233,17.169],[6309,17.155],
  [6236,17.208],[6195,17.240],
  [6690,16.960],[6574,16.979],[6692,17.162],[6652,17.186],[6692,17.309],[6692,17.352],
  [7147,16.872],[7071,16.928],[7073,17.022],[6997,17.045],[7073,17.101],[7073,17.112],[7073,17.214],[7035,17.282],[6960,17.335],
  [7414,16.931],[7376,16.985],[7303,17.000],[7452,17.091],[7492,17.118],[7416,17.278],
  [7795,16.906],[7875,17.031],[7759,17.065],[7724,17.300],[7799,17.281],
  [8140,17.009],[8218,17.090],[8181,17.237],[8105,17.358],
  [8443,16.895],[8446,16.904],[8368,16.938],[8446,16.958],[8446,16.963],[8452,17.024],[8521,17.042],[8446,17.060],[8446,17.081],
  [8408,17.159],[8486,17.227],[8446,17.262],[8446,17.266],[8524,17.270],[8448,17.286],[8564,17.297],[8446,17.394],
  [8829,16.960],[8753,16.985],[8791,16.984],[8869,17.017],[8715,17.221],
  [9852.7,16.965],[9855.5,17.319],[9856.4,17.391],[9856.4,17.405],[9856.4,17.415],[9856.4,17.425],
  [9893.3,17.274],[9893.3,17.286],[9893.3,17.301],[9893.5,17.330],
  [9928.4,16.893],[9928.4,16.908],[9929.3,16.950],[9929.3,16.965],[9929.7,16.984],
  [9930.2,17.056],[9930.2,17.074],[9930.2,17.092],[9930.6,17.116],
  [9931.1,17.237],[9931.1,17.255],[9931.1,17.274],[9931.1,17.292],
  [9931.9,17.322],[9932.0,17.346],[9932.4,17.364],[9932.6,17.382],[9932.8,17.400],
  [9966.9,16.851],[9967.1,16.875],[9967.1,16.893],[9967.5,16.908],[9967.9,16.978],[9967.9,16.996],[9967.9,17.017],
  [9968.9,17.138],[9968.9,17.159],[9968.9,17.177],[9968.9,17.201],[9968.9,17.219],
  [9970.2,17.292],[9970.2,17.310],[9970.2,17.331],[9970.2,17.349],
  [9971.1,17.376],[9971.1,17.394],[9971.1,17.412],[9971.1,17.428],
  [10004.9,16.869],[10004.9,16.887],[10005.3,16.906],
  [10007.1,17.141],[10007.1,17.159],[10007.1,17.180],[10007.1,17.192],
  [10008.0,17.334],[10008.0,17.352],[10008.0,17.373],[10008.4,17.388],[10008.9,17.406],[10008.9,17.424],[10008.9,17.434],
  [10042.7,16.869],[10042.7,16.887],[10044.0,16.947],[10044.0,16.965],
  [10044.9,17.044],[10044.9,17.062],[10044.9,17.083],[10044.9,17.104],
  [10045.8,17.207],[10046.2,17.225],[10046.2,17.237],[10046.7,17.286],[10046.7,17.298]
];

const phaseBins = [phase00, phase13, phase25, phase38, phase50, phase63, phase75, phase88];
// draw order of the bins (later ones on top)
const drawOrder = [0, 7, 3, 4, 5, 6, 1, 2];

const tickFont = { family: 'Liberation Sans', size: 22 };

function isMajor(v, step) {
  return Math.abs(v / step - Math.round(v / step)) < 1e-6;
}

// frame, inward ticks, dashed markers and axis break
const framePlugin = {
  id: 'frame',
  beforeDatasetsDraw(chart, args, o) {
    const { ctx, chartArea: a, scales: { x } } = chart;
    ctx.save();
    ctx.beginPath();
    ctx.rect(a.left, a.top, a.right - a.left, a.bottom - a.top);
    ctx.clip();
    ctx.strokeStyle = '#555';
    ctx.lineWidth = 1;
    ctx.setLineDash([4, 3]);
    markHjd.forEach(v => {
      if (v <= x.min || v >= x.max) return;
      const px = Math.round(x.getPixelForValue(v)) + 0.5;
      ctx.beginPath();
      ctx.moveTo(px, a.top);
      ctx.lineTo(px, a.bottom);
      ctx.stroke();
    });
    ctx.restore();
  },
  afterDraw(chart, args, o) {
    const { ctx, chartArea: a, scales: { x, y } } = chart;
    ctx.save();
    ctx.strokeStyle = '#000';
    ctx.lineWidth = 1.5;
    // x ticks, top and bottom, pointing in
    const x0 = Math.ceil(x.min / o.xMinor) * o.xMinor;
    for (let v = x0; v <= x.max; v += o.xMinor) {
      const px = x.getPixelForValue(v);
      if (px < a.left + 2 || px > a.right - 2) continue;
      const len = isMajor(v, o.xMajor) ? 10 : 5;
      ctx.beginPath();
      ctx.moveTo(px, a.bottom); ctx.lineTo(px, a.bottom - len);
      ctx.moveTo(px, a.top); ctx.lineTo(px, a.top + len);
      ctx.stroke();
    }
    // y ticks on the outer side
    const y0 = Math.ceil(y.min / 0.1 - 1e-6) * 0.1;
    for (let v = y0; v <= y.max + 1e-6; v += 0.1) {
      const py = y.getPixelForValue(v);
      if (py < a.top + 2 || py > a.bottom - 2) continue;
      const len = isMajor(v, 0.2) ? 10 : 5;
      ctx.beginPath();
      if (o.side === 'left') { ctx.moveTo(a.left, py); ctx.lineTo(a.left + len, py); }
      else { ctx.moveTo(a.right, py); ctx.lineTo(a.right - len, py); }
      ctx.stroke();
    }
    // frame
    ctx.lineWidth = 2;
    ctx.beginPath();
    if (o.side === 'left') {
      ctx.moveTo(a.right, a.top); ctx.lineTo(a.left, a.top);
      ctx.lineTo(a.left, a.bottom); ctx.lineTo(a.right, a.bottom);
    } else {
      ctx.moveTo(a.left, a.top); ctx.lineTo(a.right, a.top);
      ctx.lineTo(a.right, a.bottom); ctx.lineTo(a.left, a.bottom);
    }
    ctx.stroke();
    if (o.side === 'right') {
      // axis break
      const bx = a.left;
      ctx.strokeStyle = '#8c8c8c';
      ctx.lineWidth = 1.2;
      ctx.beginPath();
      ctx.moveTo(bx, a.top); ctx.lineTo(bx, a.bottom);
      ctx.stroke();
      [a.top, a.bottom].forEach(yy => {
        ctx.fillStyle = '#fff';
        ctx.fillRect(bx - 10, yy - 1.5, 18, 3);
        ctx.strokeStyle = '#000';
        ctx.lineWidth = 1.8;
        ctx.beginPath();
        ctx.moveTo(bx - 12, yy);
        ctx.lineTo(bx - 7.5, yy);
        ctx.lineTo(bx - 2.5, yy - 10.5);
        ctx.lineTo(bx + 1.7, yy + 10.5);
        ctx.lineTo(bx + 5.3, yy);
        ctx.lineTo(bx + 10, yy);
        ctx.stroke();
      });
    }
    ctx.restore();
  }
};

function makePanel(id, xmin, xmax, xTicks, side, xMinor, xMajor, padding) {
  const datasets = drawOrder.map(i => ({
    label: phaseLabels[i] + '-' + phaseLabels[i + 1],
    data: phaseBins[i].filter(p => p[0] >= xmin && p[0] <= xmax).map(p => ({ x: p[0], y: p[1] })),
    backgroundColor: phaseColors[i],
    borderWidth: 0,
    pointRadius: 2.9,
    pointHoverRadius: 2.9
  }));
  return new Chart(document.getElementById(id), {
    type: 'scatter',
    data: { datasets: datasets },
    options: {
      responsive: false,
      animation: false,
      devicePixelRatio: 1,
      layout: { padding: padding },
      plugins: {
        legend: { display: false },
        tooltip: { enabled: false },
        frame: { side: side, xMinor: xMinor, xMajor: xMajor }
      },
      scales: {
        x: {
          type: 'linear', min: xmin, max: xmax,
          afterBuildTicks: s => { s.ticks = xTicks.map(v => ({ value: v })); },
          afterFit: s => { s.height = 96; },
          ticks: { font: tickFont, color: '#000', padding: 5, maxRotation: 0, autoSkip: false, callback: v => String(v) },
          grid: { display: false },
          border: { display: false }
        },
        y: {
          display: side === 'left',
          reverse: true, min: 16.5, max: 17.55,
          afterBuildTicks: s => { s.ticks = magTicks.map(v => ({ value: v })); },
          afterFit: s => { s.width = side === 'left' ? 134 : 0; },
          ticks: { font: tickFont, color: '#000', padding: 14, callback: v => v.toFixed(1) },
          grid: { display: false },
          border: { display: false }
        }
      }
    },
    plugins: [framePlugin]
  });
}

makePanel('leftPanel', 1927, 9045, hjdTicksLeft, 'left', 200, 1000, { left: 0, right: 6, top: 43, bottom: 0 });
makePanel('rightPanel', 9797, 10099, hjdTicksRight, 'right', 10, 50, { left: 19, right: 13, top: 43, bottom: 0 });

// colour bar
const boxPlugin = {
  id: 'box',
  afterDraw(chart) {
    const { ctx, chartArea: a } = chart;
    ctx.save();
    ctx.strokeStyle = '#000';
    ctx.lineWidth = 1;
    ctx.strokeRect(a.left + 0.5, a.top + 0.5, a.right - a.left - 1, a.bottom - a.top);
    ctx.restore();
  }
};

new Chart(document.getElementById('phaseBar'), {
  type: 'bar',
  data: {
    labels: [''],
    datasets: phaseColors.map((c, i) => ({
      label: phaseLabels[i],
      data: [phaseTicks[i + 1] - phaseTicks[i]],
      backgroundColor: c,
      borderWidth: 0,
      barPercentage: 1,
      categoryPercentage: 1,
      stack: 'phase'
    }))
  },
  options: {
    responsive: false,
    animation: false,
    devicePixelRatio: 1,
    layout: { padding: { left: 0, right: 0, top: 43, bottom: 96 } },
    plugins: { legend: { display: false }, tooltip: { enabled: false } },
    scales: {
      x: { stacked: true, display: false },
      y: {
        stacked: true, position: 'right', min: 0, max: 1,
        afterBuildTicks: s => { s.ticks = phaseTicks.map(v => ({ value: v })); },
        afterFit: s => { s.width = 110; },
        ticks: { font: { family: 'Liberation Sans', size: 17 }, color: '#000', padding: 6, callback: (v, i) => phaseLabels[i] },
        grid: { display: true, drawOnChartArea: false, drawTicks: true, tickLength: 10, color: '#000', lineWidth: 1 },
        border: { display: true, color: '#000', width: 1 }
      }
    }
  },
  plugins: [boxPlugin]
});
</script>
</body>
</html>
